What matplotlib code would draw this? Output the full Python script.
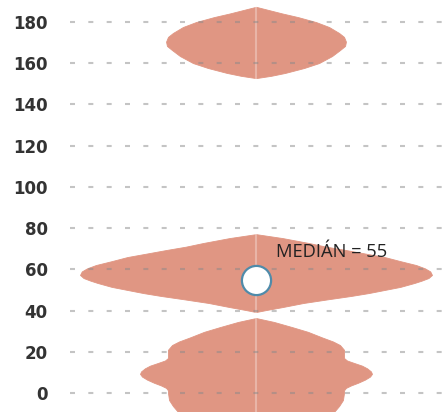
import matplotlib
matplotlib.use("Agg")
import matplotlib.pyplot as plt
import numpy as np

plt.rcParams['lines.scale_dashes'] = False

# Violin profile: value vs. relative density (half-width)
top_values = [187.4, 185.8, 184.2, 182.4, 180.0, 177.6, 174.7, 172.8, 170.5,
              168.4, 166.4, 163.5, 160.1, 157.7, 155.3, 153.9, 152.8]
top_density = [0.000, 0.074, 0.148, 0.239, 0.341, 0.415, 0.472, 0.500, 0.511,
               0.506, 0.477, 0.432, 0.358, 0.273, 0.165, 0.085, 0.000]

mid_values = [77.1, 75.2, 72.8, 71.0, 69.4, 68.0, 66.0, 64.0, 62.1, 60.5, 59.0,
              57.3, 55.8, 54.5, 53.4, 51.5, 50.0, 48.5, 47.1, 45.5, 43.7, 41.7,
              40.3, 39.3]
mid_density = [0.00, 0.15, 0.30, 0.40, 0.51, 0.60, 0.73, 0.82, 0.91, 0.96, 0.99,
               1.00, 0.98, 0.94, 0.90, 0.82, 0.73, 0.64, 0.54, 0.41, 0.27, 0.15,
               0.06, 0.00]

low_values = [36.4, 34.5, 32.0, 29.7, 27.0, 25.0, 23.3, 21.0, 18.5, 17.0, 15.8,
              14.6, 13.3, 12.0, 10.5, 9.3, 8.0, 6.5, 5.0, 3.7, 2.5, 1.3, 0.0,
              -3.4, -6.3, -9.2, -15.0, -22.0]
low_density = [0.000, 0.102, 0.205, 0.295, 0.375, 0.438, 0.477, 0.500, 0.500,
               0.500, 0.517, 0.557, 0.602, 0.631, 0.653, 0.659, 0.648, 0.619,
               0.580, 0.540, 0.511, 0.500, 0.500, 0.494, 0.472, 0.443, 0.340,
               0.000]

data_min, data_max = -22.0, 187.4
median = 55
median_label = "MEDIÁN = 55"
y_ticks = [0, 20, 40, 60, 80, 100, 120, 140, 160, 180]

violin_color = "#E09683"

fig = plt.figure(figsize=(4.45, 4.12), dpi=100)
ax = fig.add_axes([70 / 445, 0, 375 / 445, 1])

for vals, dens in [(top_values, top_density), (mid_values, mid_density),
                   (low_values, low_density)]:
    v = np.array(vals)
    d = np.array(dens)
    ax.fill_betweenx(v, -d, d, color=violin_color, linewidth=0.6,
                     edgecolor=violin_color, zorder=1)

# centre line (light, visible only over the violin)
ax.plot([0, 0], [data_min, data_max], color="white", alpha=0.3, lw=1.5, zorder=2)

# grid
for t in y_ticks:
    ax.axhline(t, color="#8a8a8a", alpha=0.5, lw=1.5, dashes=(3.6, 9.6), zorder=3)

# median marker
ax.plot([0], [median], marker="o", markersize=21, markerfacecolor="white",
        markeredgecolor="#4F8BAA", markeredgewidth=1.6, zorder=5)
ax.text(0.115, 66.0, median_label, fontsize=13.2, family="Open Sans",
        color="#222222", va="baseline", ha="left", zorder=6)

ax.set_xlim(-186 / 176, 189 / 176)
ax.set_ylim(-9.2, 190.7)
ax.set_yticks(y_ticks)
ax.set_yticklabels([str(t) for t in y_ticks])
ax.set_xticks([])
ax.tick_params(axis="y", length=0, pad=16, labelsize=12, labelcolor="#333333")
for lab in ax.get_yticklabels():
    lab.set_family("DejaVu Sans")
    lab.set_fontweight("bold")
for s in ax.spines.values():
    s.set_visible(False)

fig.savefig("out.png", dpi=100)
